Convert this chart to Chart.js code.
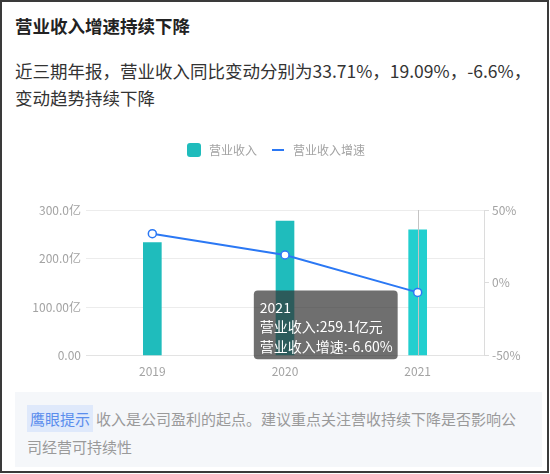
<!DOCTYPE html>
<html>
<head>
<meta charset="utf-8">
<script src="https://cdn.jsdelivr.net/npm/chart.js@4.4.1/dist/chart.umd.min.js"></script>
<style>
  html, body { margin: 0; padding: 0; background: #fff; }
  body { width: 550px; height: 474px; position: relative; overflow: hidden; font-family: "Noto Sans CJK SC", "Noto Sans", sans-serif; }
  #frame { position: absolute; left: 0; top: 0; width: 549px; height: 473px; box-sizing: border-box; border: 2px solid #3a3a3a; }
  #title { position: absolute; left: 15px; top: 14px; font-size: 17.5px; font-weight: bold; color: #222; line-height: 24px; white-space: nowrap; }
  #sub { position: absolute; left: 15px; top: 57px; width: 525px; font-size: 17.5px; color: #333; line-height: 27px; }
  #wrap { position: absolute; left: 0; top: 130px; width: 550px; height: 258px; }
  #tip { position: absolute; left: 15px; top: 392px; width: 527px; height: 75px; background: #f5f7fa; box-sizing: border-box; padding: 13px 12px 0 12px; font-size: 15px; line-height: 28px; color: #9a9a9a; }
  #tip .tag { background: #dfe9fb; color: #5a8ded; padding: 3px 3px; margin-right: 3px; }
</style>
</head>
<body>
<div id="frame"></div>
<div id="title">营业收入增速持续下降</div>
<div id="sub">近三期年报，营业收入同比变动分别为33.71%，19.09%，-6.6%，变动趋势持续下降</div>
<div id="wrap"><canvas id="c" width="550" height="258"></canvas></div>
<div id="tip"><span class="tag">鹰眼提示</span>收入是公司盈利的起点。建议重点关注营收持续下降是否影响公司经营可持续性</div>
<script>
const categories = ['2019', '2020', '2021'];
const revenue = [232.9, 277.4, 259.1];       // 营业收入 (亿元)
const growth = [33.71, 19.09, -6.60];        // 营业收入增速 (%)
const leftTickValues = [0, 100, 200, 300];
const leftTickLabels = ['0.00', '100.00亿', '200.0亿', '300.0亿'];
const rightTickValues = [-50, 0, 50];
const rightTickLabels = ['-50%', '0%', '50%'];
const activeIndex = 2;

const FONT = '"Noto Sans CJK SC", "Noto Sans", sans-serif';
const BAR_COLOR = '#1fbcbc';
const LINE_COLOR = '#2b78f4';

// legend symbols
function makeSquareIcon() {
  const c = document.createElement('canvas');
  c.width = 14; c.height = 14;
  const g = c.getContext('2d');
  g.fillStyle = BAR_COLOR;
  g.beginPath();
  g.roundRect(0, 0, 14, 14, 3);
  g.fill();
  return c;
}
function makeLineIcon() {
  const c = document.createElement('canvas');
  c.width = 12; c.height = 2;
  const g = c.getContext('2d');
  g.fillStyle = LINE_COLOR;
  g.fillRect(0, 0, 12, 2);
  return c;
}
const squareIcon = makeSquareIcon();
const lineIcon = makeLineIcon();

Chart.Tooltip.positioners.leftOfPoint = function(items) {
  if (!items.length) return false;
  const pt = items[items.length - 1].element;
  return { x: pt.x - 24, y: pt.y - 2, xAlign: 'right', yAlign: 'top' };
};

const crosshair = {
  id: 'crosshair',
  afterDatasetDraw(chart, args) {
    if (args.meta.type !== 'bar') return;
    const el = args.meta.data[activeIndex];
    const { top, bottom } = chart.chartArea;
    const ctx = chart.ctx;
    ctx.save();
    ctx.strokeStyle = '#c4c4c4';
    ctx.lineWidth = 1;
    ctx.beginPath();
    ctx.moveTo(Math.round(el.x) + 0.5, top);
    ctx.lineTo(Math.round(el.x) + 0.5, bottom);
    ctx.stroke();
    ctx.restore();
  }
};

const legendSpace = {
  id: 'legendSpace',
  beforeInit(chart) {
    const orig = chart.legend.fit;
    chart.legend.fit = function() {
      orig.call(this);
      this.height += 44;
    };
  }
};

const chart = new Chart(document.getElementById('c'), {
  data: {
    labels: categories,
    datasets: [
      {
        type: 'bar',
        label: '营业收入',
        data: revenue,
        yAxisID: 'y',
        order: 1,
        backgroundColor: [BAR_COLOR, BAR_COLOR, '#22cfcf'],
        hoverBackgroundColor: [BAR_COLOR, BAR_COLOR, '#22cfcf'],
        barThickness: 18
      },
      {
        type: 'line',
        label: '营业收入增速',
        data: growth,
        yAxisID: 'y1',
        order: 0,
        borderColor: LINE_COLOR,
        borderWidth: 2,
        pointRadius: 4,
        pointHoverRadius: 4,
        pointBorderWidth: 1.5,
        pointHoverBorderWidth: 1.5,
        pointBackgroundColor: '#fff',
        pointHoverBackgroundColor: '#fff',
        pointBorderColor: LINE_COLOR,
        tension: 0
      }
    ]
  },
  options: {
    responsive: false,
    animation: false,
    events: [],
    layout: { padding: { top: 2, left: 0, right: 0, bottom: 0 } },
    plugins: {
      legend: {
        position: 'top',
        labels: {
          usePointStyle: true,
          pointStyleWidth: 18,
          boxHeight: 14,
          padding: 12,
          color: '#a3a3a3',
          font: { family: FONT, size: 12 },
          generateLabels(chart) {
            const items = Chart.defaults.plugins.legend.labels.generateLabels(chart);
            items.sort((a, b) => a.datasetIndex - b.datasetIndex);
            items.forEach(it => {
              it.pointStyle = it.datasetIndex === 0 ? squareIcon : lineIcon;
              it.lineWidth = 0;
            });
            return items;
          }
        }
      },
      tooltip: {
        enabled: true,
        mode: 'index',
        position: 'leftOfPoint',
        xAlign: 'right',
        yAlign: 'top',
        caretSize: 0,
        caretPadding: 0,
        cornerRadius: 4,
        backgroundColor: 'rgba(50,50,50,0.7)',
        titleColor: '#fff',
        bodyColor: '#fff',
        titleFont: { family: FONT, size: 14, weight: 'normal', lineHeight: 1.4 },
        bodyFont: { family: FONT, size: 14, lineHeight: 1.4 },
        titleMarginBottom: 0,
        bodySpacing: 0,
        padding: { top: 7, bottom: 3, left: 6, right: 5 },
        displayColors: false,
        callbacks: {
          title(items) { return items[0].label; },
          label(item) {
            if (item.datasetIndex === 0) return item.dataset.label + ':' + item.raw.toFixed(1) + '亿元';
            return item.dataset.label + ':' + item.raw.toFixed(2) + '%';
          }
        }
      }
    },
    scales: {
      x: {
        grid: { display: false, drawTicks: false },
        border: { display: true, color: '#e3e3e3' },
        ticks: { color: '#a3a3a3', font: { family: FONT, size: 12 }, padding: 9 }
      },
      y: {
        position: 'left',
        min: 0, max: 300,
        afterBuildTicks(scale) { scale.ticks = leftTickValues.map(v => ({ value: v })); },
        afterFit(scale) { scale.width = 86; },
        grid: { color: '#ececec', drawTicks: false },
        border: { display: false },
        ticks: {
          color: '#a3a3a3', font: { family: FONT, size: 12 }, padding: 5,
          callback(v) { return leftTickLabels[leftTickValues.indexOf(v)]; }
        }
      },
      y1: {
        position: 'right',
        min: -50, max: 50,
        afterBuildTicks(scale) { scale.ticks = rightTickValues.map(v => ({ value: v })); },
        afterFit(scale) { scale.width = 66; },
        grid: { drawOnChartArea: false, drawTicks: true, tickLength: 5, color: '#dcdcdc' },
        border: { display: true, color: '#dcdcdc' },
        ticks: {
          color: '#a3a3a3', font: { family: FONT, size: 12 }, padding: 3,
          callback(v) { return rightTickLabels[rightTickValues.indexOf(v)]; }
        }
      }
    }
  },
  plugins: [crosshair, legendSpace]
});

const active = [{ datasetIndex: 0, index: activeIndex }, { datasetIndex: 1, index: activeIndex }];
chart.tooltip.setActiveElements(active, { x: 0, y: 0 });
chart.update();
</script>
</body>
</html>
